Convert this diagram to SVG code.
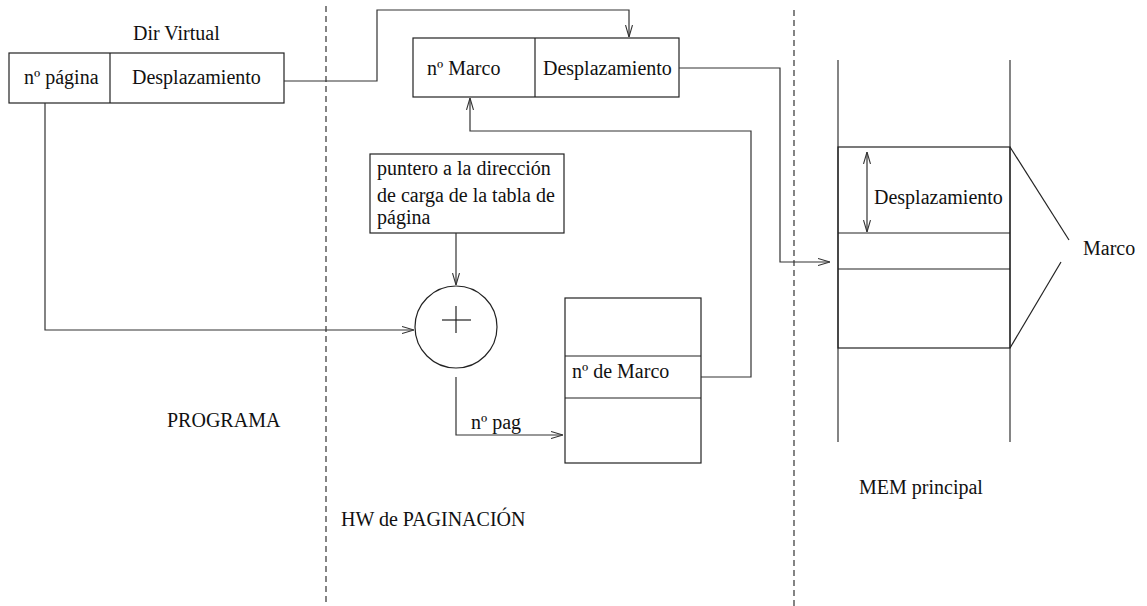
<svg xmlns="http://www.w3.org/2000/svg" width="1147" height="606" viewBox="0 0 1147 606">
<style>
.b{fill:none;stroke:#222;stroke-width:1.2}
.c{fill:none;stroke:#333;stroke-width:1.2}
.d{fill:none;stroke:#333;stroke-width:1.2;stroke-dasharray:6 4}
text{font-family:"Liberation Serif","Times New Roman",serif;font-size:20px;fill:#111}
</style>
<defs>
<marker id="a" viewBox="0 0 12 8" refX="12" refY="4" markerWidth="12" markerHeight="8" markerUnits="userSpaceOnUse" orient="auto-start-reverse">
<path d="M0,0.5 L12,4 L0,7.5" fill="none" stroke="#333" stroke-width="1.1"/>
</marker>
</defs>
<rect width="1147" height="606" fill="#fff"/>
<g id="separators">
<line class="d" x1="326" y1="6" x2="326" y2="606"/>
<line class="d" x1="794" y1="10" x2="794" y2="606"/>
</g>
<g id="dir-virtual">
<text x="133" y="40">Dir Virtual</text>
<rect class="b" x="9" y="53" width="275" height="50"/>
<line class="b" x1="110" y1="53" x2="110" y2="103"/>
<text x="24" y="84">nº página</text>
<text x="132" y="84">Desplazamiento</text>
</g>
<g id="dir-fisica">
<rect class="b" x="413" y="38" width="266" height="59"/>
<line class="b" x1="535" y1="38" x2="535" y2="97"/>
<text x="427" y="75">nº Marco</text>
<text x="543" y="75">Desplazamiento</text>
</g>
<g id="puntero">
<rect class="b" x="370" y="154" width="194" height="79"/>
<text x="377" y="175">puntero a la dirección</text>
<text x="377" y="202">de carga de la tabla de</text>
<text x="377" y="224">página</text>
</g>
<g id="sumador">
<circle class="b" cx="456" cy="327" r="41"/>
<line class="b" x1="442" y1="320" x2="471" y2="320"/>
<line class="b" x1="456" y1="306" x2="456" y2="333"/>
</g>
<g id="tabla">
<rect class="b" x="565" y="298" width="136" height="165"/>
<line class="b" x1="565" y1="356" x2="701" y2="356"/>
<line class="b" x1="565" y1="398" x2="701" y2="398"/>
<text x="572" y="378">nº de Marco</text>
</g>
<g id="memoria">
<line class="c" x1="838" y1="60" x2="838" y2="442"/>
<line class="c" x1="1010" y1="60" x2="1010" y2="442"/>
<rect class="b" x="838" y="147" width="172" height="201"/>
<line class="b" x1="838" y1="233" x2="1010" y2="233"/>
<line class="b" x1="838" y1="269" x2="1010" y2="269"/>
<line class="c" x1="867" y1="152" x2="867" y2="232" marker-start="url(#a)" marker-end="url(#a)"/>
<text x="874" y="204">Desplazamiento</text>
<line class="b" x1="1010" y1="147" x2="1069" y2="240"/>
<line class="b" x1="1010" y1="348" x2="1061" y2="262"/>
<text x="1083" y="255">Marco</text>
<text x="859" y="494">MEM principal</text>
</g>
<g id="labels">
<text x="167" y="427">PROGRAMA</text>
<text x="341" y="526">HW de PAGINACIÓN</text>
<text x="471" y="429">nº pag</text>
</g>
<g id="connectors">
<polyline class="c" points="284,81 377,81 377,10 629,10 629,37" marker-end="url(#a)"/>
<polyline class="c" points="679,68 780,68 780,262 830,262" marker-end="url(#a)"/>
<polyline class="c" points="45,103 45,330 414,330" marker-end="url(#a)"/>
<line class="c" x1="456" y1="233" x2="456" y2="285" marker-end="url(#a)"/>
<polyline class="c" points="456,377 456,435 563,435" marker-end="url(#a)"/>
<polyline class="c" points="701,377 751,377 751,131 470,131 470,98" marker-end="url(#a)"/>
</g>
</svg>
